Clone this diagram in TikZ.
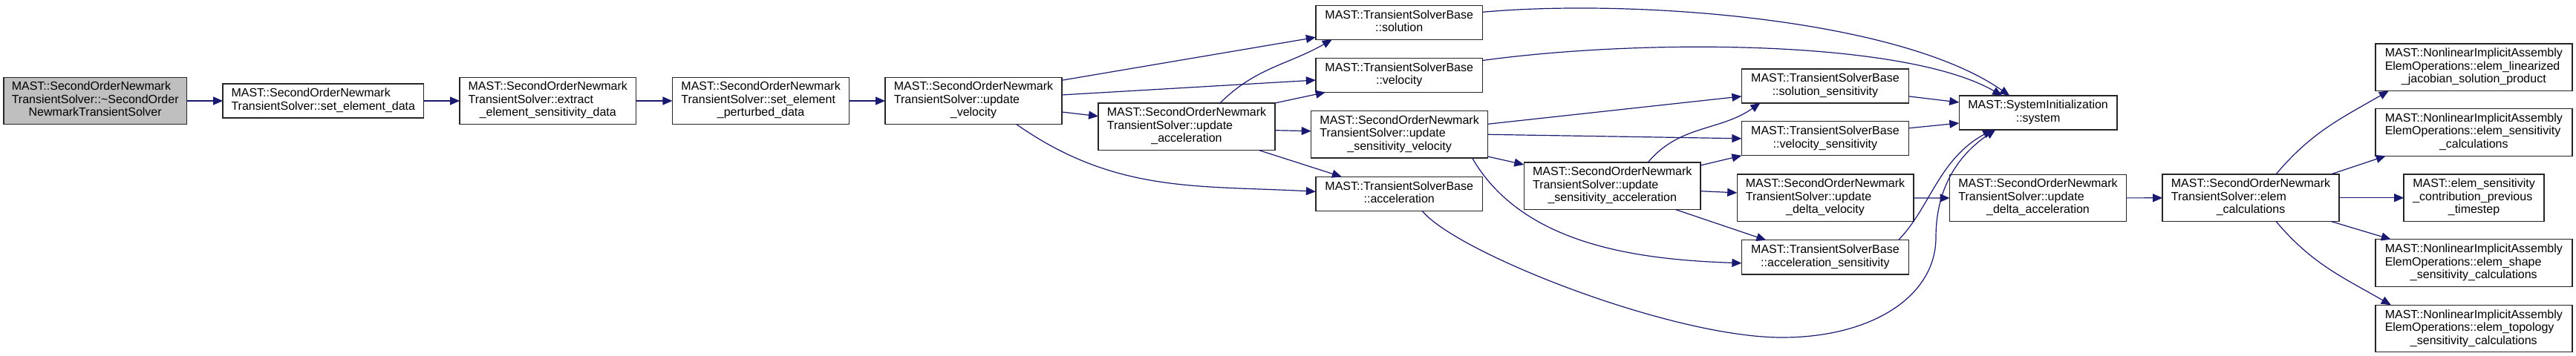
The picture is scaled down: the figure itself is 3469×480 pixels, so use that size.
\documentclass[tikz,border=0pt]{standalone}
\usepackage{fontspec}
\setmainfont{Liberation Sans}
\usetikzlibrary{arrows.meta}
\definecolor{midnightblue}{HTML}{191970}
\newcommand{\fnlabel}[2]{\begin{tabular}{@{}l@{}}#1\\\multicolumn{1}{@{}c@{}}{#2}\end{tabular}}
\begin{document}
\begin{tikzpicture}[x=1bp,y=-1bp,every node/.style={draw=black!85,line width=1.4bp,fill=white,inner xsep=0pt,inner ysep=5.5bp,outer sep=0pt,font=\fontsize{16bp}{17.5bp}\selectfont},fn/.style={minimum width=#1},callarrow/.style={draw=midnightblue,line width=1.2bp,-{Triangle[length=13bp,width=11bp]}}]
\useasboundingbox (0,0) rectangle (3469,480);
\node[fn=247.2,fill=black!25] (dtor) at (128.2,136) {\fnlabel{MAST::SecondOrderNewmark\\TransientSolver::\textasciitilde SecondOrder}{NewmarkTransientSolver}};
\node[fn=271.3] (setdata) at (435.3,136) {\fnlabel{MAST::SecondOrderNewmark}{TransientSolver::set\_element\_data}};
\node[fn=238.3] (extract) at (737.8,136) {\fnlabel{MAST::SecondOrderNewmark\\TransientSolver::extract}{\_element\_sensitivity\_data}};
\node[fn=239.2] (perturbed) at (1024.6,136) {\fnlabel{MAST::SecondOrderNewmark\\TransientSolver::set\_element}{\_perturbed\_data}};
\node[fn=238.9] (updvel) at (1311,136) {\fnlabel{MAST::SecondOrderNewmark\\TransientSolver::update}{\_velocity}};
\node[fn=225.6] (sol) at (1884.2,30.3) {\fnlabel{MAST::TransientSolverBase}{::solution}};
\node[fn=225.6] (vel) at (1884.2,101.5) {\fnlabel{MAST::TransientSolverBase}{::velocity}};
\node[fn=238.8] (updacc) at (1598,170.7) {\fnlabel{MAST::SecondOrderNewmark\\TransientSolver::update}{\_acceleration}};
\node[fn=238.8] (updsensvel) at (1884.6,181.3) {\fnlabel{MAST::SecondOrderNewmark\\TransientSolver::update}{\_sensitivity\_velocity}};
\node[fn=225.6] (acc) at (1884.2,261.3) {\fnlabel{MAST::TransientSolverBase}{::acceleration}};
\node[fn=238.8] (updsensacc) at (2171.2,250.7) {\fnlabel{MAST::SecondOrderNewmark\\TransientSolver::update}{\_sensitivity\_acceleration}};
\node[fn=225.9] (solsens) at (2457.9,115.9) {\fnlabel{MAST::TransientSolverBase}{::solution\_sensitivity}};
\node[fn=225.9] (velsens) at (2457.9,186.8) {\fnlabel{MAST::TransientSolverBase}{::velocity\_sensitivity}};
\node[fn=238.5] (upddeltavel) at (2458,266.9) {\fnlabel{MAST::SecondOrderNewmark\\TransientSolver::update}{\_delta\_velocity}};
\node[fn=225.9] (accsens) at (2457.9,346.8) {\fnlabel{MAST::TransientSolverBase}{::acceleration\_sensitivity}};
\node[fn=213.5] (system) at (2744.6,152) {\fnlabel{MAST::SystemInitialization}{::system}};
\node[fn=238.8] (upddeltaacc) at (2744.5,267) {\fnlabel{MAST::SecondOrderNewmark\\TransientSolver::update}{\_delta\_acceleration}};
\node[fn=238.7] (elemcalc) at (3031,266.7) {\fnlabel{MAST::SecondOrderNewmark\\TransientSolver::elem}{\_calculations}};
\node[fn=189.4] (prevstep) at (3331.5,266.7) {\fnlabel{MAST::elem\_sensitivity\\\_contribution\_previous}{\_timestep}};
\node[fn=266] (linjac) at (3331.3,90.7) {\fnlabel{MAST::NonlinearImplicitAssembly\\ElemOperations::elem\_linearized}{\_jacobian\_solution\_product}};
\node[fn=266] (elemsens) at (3331.3,178.5) {\fnlabel{MAST::NonlinearImplicitAssembly\\ElemOperations::elem\_sensitivity}{\_calculations}};
\node[fn=266] (shapesens) at (3331.3,354.5) {\fnlabel{MAST::NonlinearImplicitAssembly\\ElemOperations::elem\_shape}{\_sensitivity\_calculations}};
\node[fn=266] (topsens) at (3331.3,443) {\fnlabel{MAST::NonlinearImplicitAssembly\\ElemOperations::elem\_topology}{\_sensitivity\_calculations}};
\draw[callarrow] (dtor) -- (setdata);
\draw[callarrow] (setdata) -- (extract);
\draw[callarrow] (extract) -- (perturbed);
\draw[callarrow] (perturbed) -- (updvel);
\draw[callarrow] ([yshift=-4bp]updvel.north east) -- ([yshift=3bp]sol.south west);
\draw[callarrow] ([yshift=8bp]updvel.east) -- ([yshift=-6.5bp]vel.west);
\draw[callarrow] ([yshift=-15bp]updvel.east) -- ([yshift=14bp]updacc.west);
\draw[callarrow] ([xshift=58bp]updvel.south) to[out=-35,in=177] ([yshift=3bp]acc.west);
\draw[callarrow] ([xshift=45bp]updacc.north) to[out=45,in=-150] ([xshift=22bp]sol.south west);
\draw[callarrow] (updacc.north east) -- ([xshift=13bp]vel.south west);
\draw[callarrow] ([yshift=-5bp]updacc.east) -- ([yshift=4.5bp]updsensvel.west);
\draw[callarrow] ([xshift=-22bp]updacc.south east) -- ([xshift=35bp]acc.north west);
\draw[callarrow] ([yshift=14bp]updsensvel.east) -- ([yshift=-14bp]solsens.west);
\draw[callarrow] (updsensvel.east) -- (velsens.west);
\draw[callarrow] ([yshift=2bp]updsensvel.south east) -- ([yshift=-3bp]updsensacc.north west);
\draw[callarrow] ([xshift=98bp]updsensvel.south) to[out=-60,in=178,looseness=0.9] ([yshift=-8bp]accsens.west);
\draw[callarrow] ([xshift=48bp]updsensacc.north) to[out=50,in=-145] ([xshift=25bp]solsens.south west);
\draw[callarrow] ([yshift=-4bp]updsensacc.north east) -- (velsens.south west);
\draw[callarrow] ([yshift=-7bp]updsensacc.east) -- ([yshift=7bp]upddeltavel.west);
\draw[callarrow] ([xshift=-34bp]updsensacc.south east) -- ([xshift=33bp]accsens.north west);
\draw[callarrow] ([yshift=14bp]sol.east) .. controls +(200,-18) and +(-150,-105) .. ([xshift=68bp]system.north west);
\draw[callarrow] ([yshift=-3bp]vel.north east) .. controls +(220,-30) and +(-130,-75) .. ([xshift=58bp]system.north west);
\draw[callarrow] ([yshift=-14bp]solsens.east) -- ([yshift=14bp]system.west);
\draw[callarrow] ([yshift=14bp]velsens.east) -- ([yshift=-14bp]system.west);
\draw[callarrow] ([xshift=-14bp]accsens.north east) .. controls +(43,-44) and +(-73,40) .. ([xshift=45bp]system.south west);
\draw[callarrow] ([xshift=31bp]acc.south) .. controls +(45,56) and +(-150,0) .. (2400,455) .. controls +(120,0) and +(0,80) .. (2607,320) .. controls +(0,-80) and +(-37,25) .. ([xshift=49bp]system.south west);
\draw[callarrow] (upddeltavel) -- (upddeltaacc);
\draw[callarrow] (upddeltaacc) -- (elemcalc);
\draw[callarrow] ([xshift=34bp]elemcalc.north) to[out=50,in=-150] ([xshift=18bp]linjac.south west);
\draw[callarrow] ([xshift=-11bp]elemcalc.north east) -- ([xshift=14bp]elemsens.south west);
\draw[callarrow] (elemcalc) -- (prevstep);
\draw[callarrow] ([xshift=-11bp]elemcalc.south east) -- ([xshift=21bp]shapesens.north west);
\draw[callarrow] ([xshift=34bp]elemcalc.south) to[out=-50,in=150] ([xshift=21bp]topsens.north west);
\end{tikzpicture}
\end{document}
